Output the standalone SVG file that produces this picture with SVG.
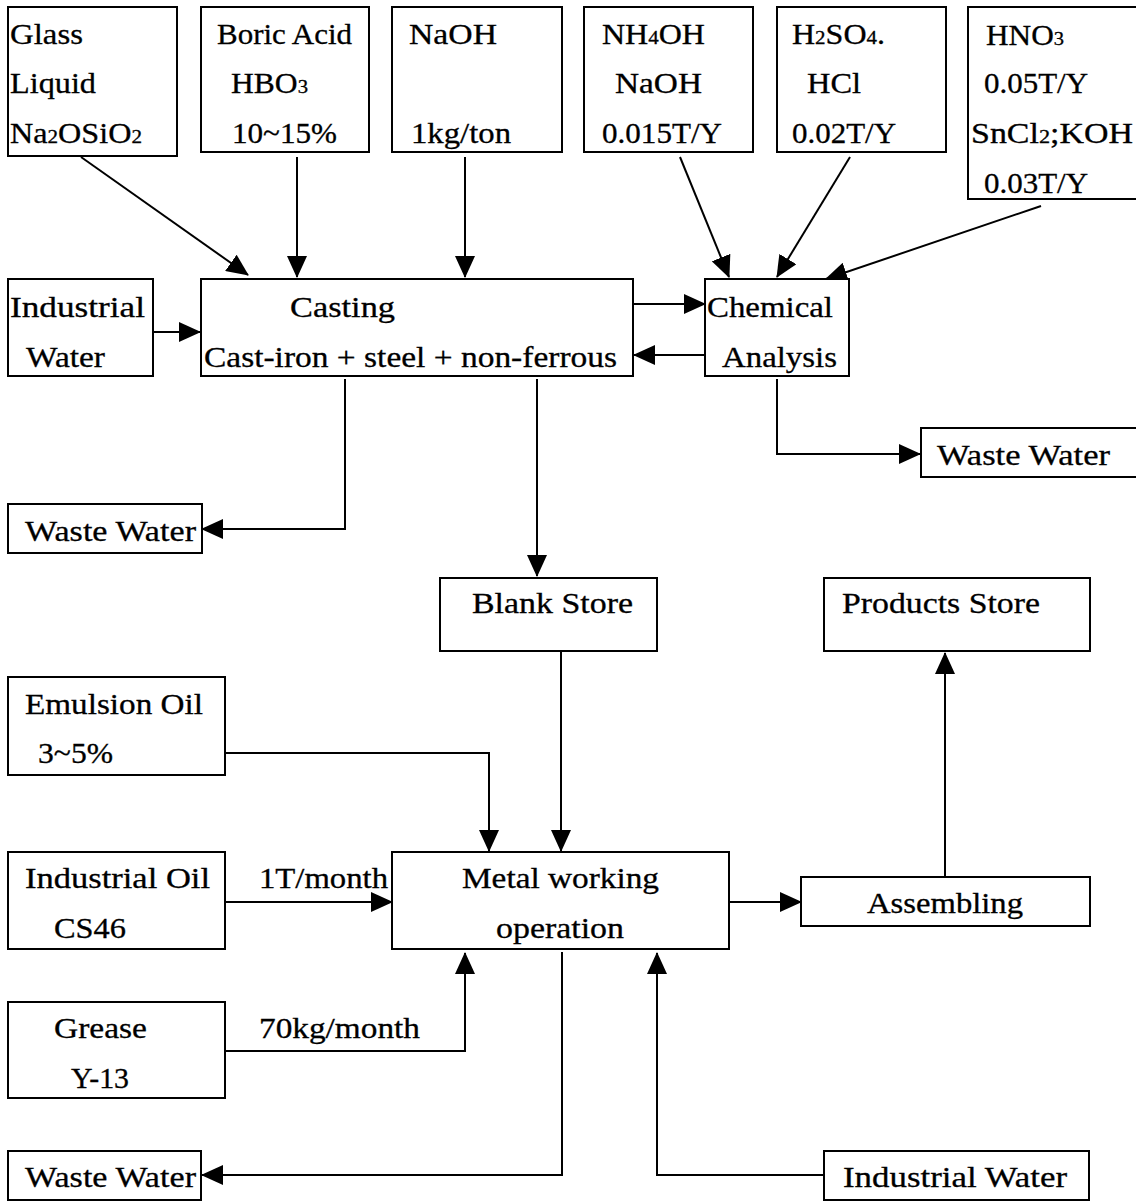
<svg xmlns="http://www.w3.org/2000/svg" width="1136" height="1201" viewBox="0 0 1136 1201">
<style>
.b{fill:#fff;stroke:#000;stroke-width:2}
text{font-family:'Times New Roman','Liberation Serif',Tinos,Times,serif;font-size:29px;fill:#000;stroke:#000;stroke-width:0.3}
.s{font-size:19px}
.c{fill:none;stroke:#000;stroke-width:2;marker-end:url(#ah)}
</style>
<defs>
<marker id="ah" markerUnits="userSpaceOnUse" markerWidth="22" markerHeight="20" refX="21" refY="10" orient="auto" viewBox="0 0 22 20"><path d="M0,0 L22,10 L0,20 z" fill="#000"/></marker>
</defs>
<rect width="1136" height="1201" fill="#fff"/>
<g id="connectors">
<path class="c" d="M81,157 L248,275"/>
<path class="c" d="M297,157 L297,277"/>
<path class="c" d="M465,157 L465,277"/>
<path class="c" d="M680,157 L729,277"/>
<path class="c" d="M850,157 L777,277"/>
<path class="c" d="M1041,206 L826,279"/>
<path class="c" d="M153,332 L200,332"/>
<path class="c" d="M633,304 L705,304"/>
<path class="c" d="M705,355 L634,355"/>
<path class="c" d="M345,379 L345,529 L202,529"/>
<path class="c" d="M537,379 L537,576"/>
<path class="c" d="M777,379 L777,454 L920,454"/>
<path class="c" d="M225,753 L489,753 L489,851"/>
<path class="c" d="M561,652 L561,851"/>
<path class="c" d="M225,902 L392,902"/>
<path class="c" d="M225,1051 L465,1051 L465,953"/>
<path class="c" d="M729,902 L801,902"/>
<path class="c" d="M945,877 L945,653"/>
<path class="c" d="M562,952 L562,1175 L202,1175"/>
<path class="c" d="M824,1175 L657,1175 L657,953"/>
<text x="259" y="888" textLength="129" lengthAdjust="spacingAndGlyphs">1T/month</text>
<text x="259" y="1038" textLength="161" lengthAdjust="spacingAndGlyphs">70kg/month</text>
</g>
<g id="glass"><rect class="b" x="8" y="7" width="169" height="149"/>
<text x="10" y="44" textLength="73" lengthAdjust="spacingAndGlyphs">Glass</text>
<text x="10" y="93" textLength="86" lengthAdjust="spacingAndGlyphs">Liquid</text>
<text x="10" y="143" textLength="132" lengthAdjust="spacingAndGlyphs">Na<tspan class="s">2</tspan>OSiO<tspan class="s">2</tspan></text></g>
<g id="boric"><rect class="b" x="201" y="7" width="168" height="145"/>
<text x="217" y="44" textLength="135" lengthAdjust="spacingAndGlyphs">Boric Acid</text>
<text x="231" y="93" textLength="77" lengthAdjust="spacingAndGlyphs">HBO<tspan class="s">3</tspan></text>
<text x="232" y="143" textLength="105" lengthAdjust="spacingAndGlyphs">10~15%</text></g>
<g id="naoh"><rect class="b" x="392" y="7" width="170" height="145"/>
<text x="409" y="44" textLength="88" lengthAdjust="spacingAndGlyphs">NaOH</text>
<text x="411" y="143" textLength="100" lengthAdjust="spacingAndGlyphs">1kg/ton</text></g>
<g id="nh4oh"><rect class="b" x="584" y="7" width="169" height="145"/>
<text x="602" y="44" textLength="103" lengthAdjust="spacingAndGlyphs">NH<tspan class="s">4</tspan>OH</text>
<text x="615" y="93" textLength="87" lengthAdjust="spacingAndGlyphs">NaOH</text>
<text x="602" y="143" textLength="120" lengthAdjust="spacingAndGlyphs">0.015T/Y</text></g>
<g id="h2so4"><rect class="b" x="777" y="7" width="169" height="145"/>
<text x="792" y="44" textLength="93" lengthAdjust="spacingAndGlyphs">H<tspan class="s">2</tspan>SO<tspan class="s">4</tspan>.</text>
<text x="807" y="93" textLength="54" lengthAdjust="spacingAndGlyphs">HCl</text>
<text x="792" y="143" textLength="104" lengthAdjust="spacingAndGlyphs">0.02T/Y</text></g>
<g id="hno3"><rect class="b" x="968" y="7" width="170" height="192"/>
<text x="986" y="45" textLength="78" lengthAdjust="spacingAndGlyphs">HNO<tspan class="s">3</tspan></text>
<text x="984" y="93" textLength="104" lengthAdjust="spacingAndGlyphs">0.05T/Y</text>
<text x="971" y="143" textLength="162" lengthAdjust="spacingAndGlyphs">SnCl<tspan class="s">2</tspan>;KOH</text>
<text x="984" y="193" textLength="104" lengthAdjust="spacingAndGlyphs">0.03T/Y</text></g>
<g id="indwater1"><rect class="b" x="8" y="279" width="145" height="97"/>
<text x="10" y="317" textLength="135" lengthAdjust="spacingAndGlyphs">Industrial</text>
<text x="26" y="367" textLength="79" lengthAdjust="spacingAndGlyphs">Water</text></g>
<g id="casting"><rect class="b" x="201" y="279" width="432" height="97"/>
<text x="290" y="317" textLength="105" lengthAdjust="spacingAndGlyphs">Casting</text>
<text x="204" y="367" textLength="413" lengthAdjust="spacingAndGlyphs">Cast-iron + steel + non-ferrous</text></g>
<g id="chemical"><rect class="b" x="705" y="279" width="144" height="97"/>
<text x="707" y="317" textLength="126" lengthAdjust="spacingAndGlyphs">Chemical</text>
<text x="722" y="367" textLength="115" lengthAdjust="spacingAndGlyphs">Analysis</text></g>
<g id="waste1"><rect class="b" x="921" y="428" width="220" height="49"/>
<text x="937" y="465" textLength="173" lengthAdjust="spacingAndGlyphs">Waste Water</text></g>
<g id="waste2"><rect class="b" x="8" y="504" width="194" height="49"/>
<text x="25" y="541" textLength="171" lengthAdjust="spacingAndGlyphs">Waste Water</text></g>
<g id="blank"><rect class="b" x="440" y="578" width="217" height="73"/>
<text x="472" y="613" textLength="161" lengthAdjust="spacingAndGlyphs">Blank Store</text></g>
<g id="products"><rect class="b" x="824" y="578" width="266" height="73"/>
<text x="842" y="613" textLength="198" lengthAdjust="spacingAndGlyphs">Products Store</text></g>
<g id="emulsion"><rect class="b" x="8" y="677" width="217" height="98"/>
<text x="25" y="714" textLength="178" lengthAdjust="spacingAndGlyphs">Emulsion Oil</text>
<text x="38" y="763" textLength="75" lengthAdjust="spacingAndGlyphs">3~5%</text></g>
<g id="indoil"><rect class="b" x="8" y="852" width="217" height="97"/>
<text x="25" y="888" textLength="185" lengthAdjust="spacingAndGlyphs">Industrial Oil</text>
<text x="54" y="938" textLength="72" lengthAdjust="spacingAndGlyphs">CS46</text></g>
<g id="metal"><rect class="b" x="392" y="852" width="337" height="97"/>
<text x="462" y="888" textLength="197" lengthAdjust="spacingAndGlyphs">Metal working</text>
<text x="496" y="938" textLength="128" lengthAdjust="spacingAndGlyphs">operation</text></g>
<g id="assembling"><rect class="b" x="801" y="877" width="289" height="49"/>
<text x="867" y="913" textLength="156" lengthAdjust="spacingAndGlyphs">Assembling</text></g>
<g id="grease"><rect class="b" x="8" y="1002" width="217" height="96"/>
<text x="54" y="1038" textLength="93" lengthAdjust="spacingAndGlyphs">Grease</text>
<text x="71" y="1088" textLength="58" lengthAdjust="spacingAndGlyphs">Y-13</text></g>
<g id="waste3"><rect class="b" x="8" y="1151" width="193" height="49"/>
<text x="25" y="1187" textLength="171" lengthAdjust="spacingAndGlyphs">Waste Water</text></g>
<g id="indwater2"><rect class="b" x="824" y="1151" width="265" height="49"/>
<text x="843" y="1187" textLength="224" lengthAdjust="spacingAndGlyphs">Industrial Water</text></g>
</svg>
